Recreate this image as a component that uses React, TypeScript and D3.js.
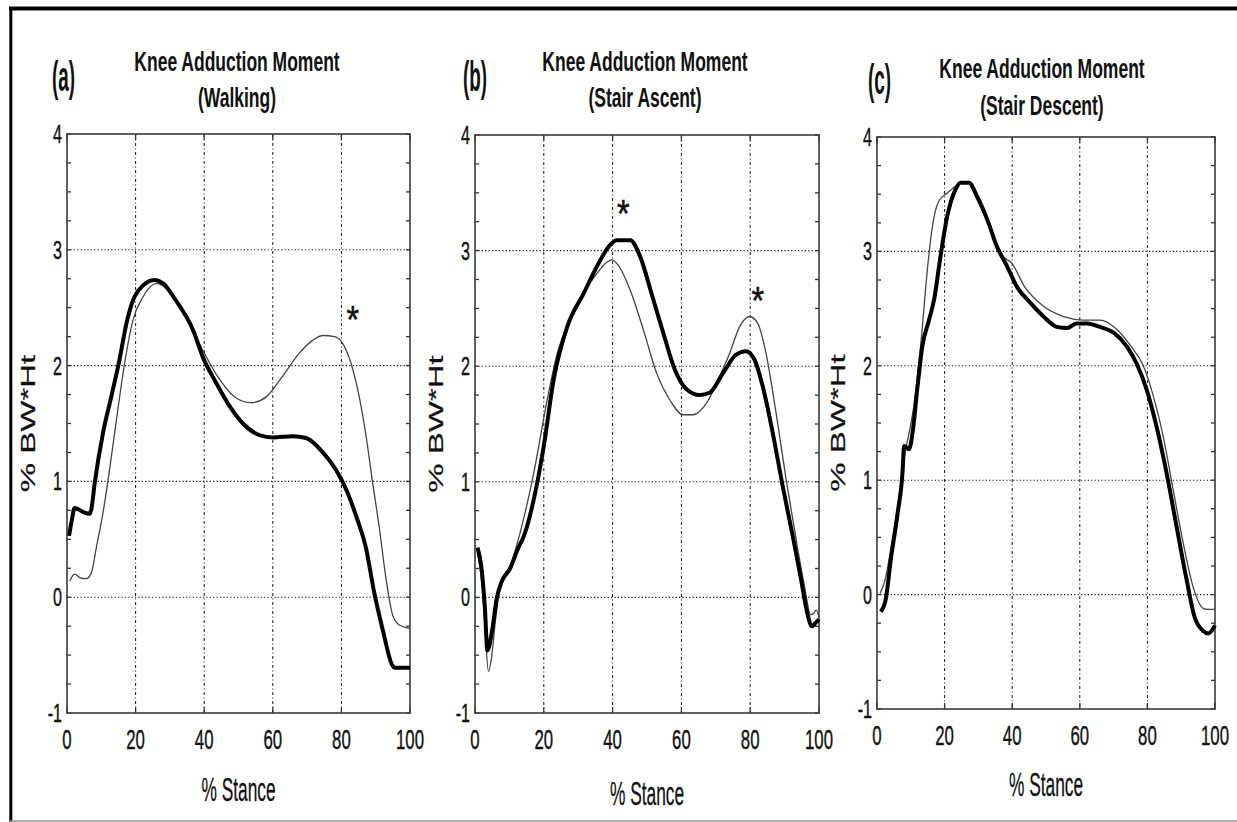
import React from "react";
import * as d3 from "d3";

// ---------- data (x = % stance, y = % BW*Ht) ----------
const xTicks = [0, 20, 40, 60, 80, 100];
const yTicks = [-1, 0, 1, 2, 3, 4];
const gridX = [20, 40, 60, 80];
const gridY = [0, 1, 2, 3];

const panelLetters = ["(a)", "(b)", "(c)"];
const titleLine1 = ["Knee Adduction Moment", "Knee Adduction Moment", "Knee Adduction Moment"];
const titleLine2 = ["(Walking)", "(Stair Ascent)", "(Stair Descent)"];
const xLabel = "% Stance";
const yLabel = "% BW*Ht";

const walkingThick: [number, number][] = [
  [0.6, 0.53], [1.5, 0.68], [2.2, 0.77], [3.2, 0.76], [5.1, 0.73], [6.6, 0.72], [7.1, 0.76],
  [8.1, 0.99], [10.5, 1.42], [12.9, 1.73], [15.3, 2.05], [17.3, 2.36], [19.2, 2.56],
  [22.1, 2.69], [25.5, 2.74], [28, 2.71], [31.8, 2.56], [36.7, 2.31], [39.8, 2.06],
  [43.5, 1.85], [47.4, 1.65], [51.3, 1.5], [56.1, 1.4], [60, 1.38], [65.8, 1.39],
  [69.7, 1.375], [74.6, 1.25], [78.4, 1.1], [81.4, 0.93], [84.3, 0.7], [87.2, 0.42],
  [89.5, 0.05], [92.2, -0.3], [94.7, -0.58], [95.6, -0.61], [100, -0.61],
];
const walkingThin: [number, number][] = [
  [0.8, 0.14], [2.2, 0.2], [3.7, 0.17], [5.6, 0.16], [7.1, 0.21], [8.5, 0.42], [10.5, 0.73],
  [12.4, 1.1], [14.4, 1.53], [16.8, 2.02], [19.2, 2.39], [22.1, 2.59], [26, 2.71],
  [29.9, 2.64], [34.8, 2.42], [39.8, 2.12], [44.5, 1.88], [49.3, 1.72], [53.7, 1.68],
  [58.1, 1.73], [62.9, 1.91], [67.8, 2.11], [71.7, 2.22], [74.6, 2.26], [78, 2.25],
  [80.4, 2.19], [82.8, 2.02], [85.2, 1.73], [87.2, 1.39], [89.1, 0.99], [91.1, 0.59],
  [93, 0.16], [95, -0.16], [96.9, -0.24], [100, -0.27],
];

const ascentThick: [number, number][] = [
  [0.7, 0.43], [1.9, 0.25], [2.9, -0.1], [3.6, -0.46], [4.9, -0.3], [6.3, -0.01], [7.8, 0.14],
  [10.2, 0.25], [12.6, 0.43], [14.2, 0.53], [17.1, 0.85], [20, 1.31], [22.9, 1.89],
  [26.8, 2.34], [31.6, 2.63], [35.4, 2.86], [39.3, 3.05], [41.2, 3.09], [45.1, 3.09],
  [48, 2.95], [51.3, 2.63], [54.7, 2.29], [58.1, 1.97], [61.5, 1.8], [65.3, 1.75],
  [68.2, 1.77], [72.1, 1.94], [75.9, 2.1], [78.8, 2.13], [81.2, 2.06], [83.6, 1.83],
  [86.5, 1.43], [89.4, 0.97], [92.3, 0.54], [94.7, 0.17], [96.7, -0.15], [97.9, -0.25],
  [99, -0.22], [100, -0.19],
];
const ascentThin: [number, number][] = [
  [0.7, 0.38], [1.9, 0.15], [2.9, -0.25], [3.9, -0.64], [4.9, -0.5], [5.8, -0.24], [6.8, 0.0],
  [7.9, 0.15], [10.2, 0.27], [13.2, 0.57], [17.1, 1.08], [21, 1.71], [23.9, 2.11],
  [27.7, 2.4], [31.6, 2.63], [35.4, 2.8], [38.3, 2.9], [39.8, 2.92], [41.7, 2.87],
  [45.1, 2.66], [48.9, 2.32], [52.8, 1.94], [56.6, 1.71], [60.5, 1.58], [63.4, 1.58],
  [67.3, 1.68], [71.1, 1.91], [74, 2.11], [76.9, 2.34], [79.8, 2.43], [82.2, 2.37],
  [84.6, 2.11], [87.5, 1.6], [90.4, 1.03], [93.3, 0.51], [95.7, 0.11], [97.6, -0.15],
  [98.4, -0.14], [99.2, -0.11], [100, -0.17],
];

const descentThick: [number, number][] = [
  [1.1, -0.15], [2.6, -0.04], [4.1, 0.31], [6.1, 0.71], [7.6, 1.09], [8.0, 1.3], [9.5, 1.27],
  [10.5, 1.41], [12, 1.82], [13.4, 2.17], [15.4, 2.4], [16.9, 2.58], [18.8, 2.96],
  [20.8, 3.31], [23.2, 3.54], [24.7, 3.6], [27.2, 3.6], [29.6, 3.48], [32.6, 3.28],
  [35.5, 3.04], [38.5, 2.87], [41.4, 2.69], [45.4, 2.55], [49.3, 2.43], [53.2, 2.34],
  [56.2, 2.33], [59.1, 2.37], [62.1, 2.37], [66, 2.34], [70, 2.29], [73.9, 2.17],
  [76.8, 2.02], [79.8, 1.79], [82.7, 1.47], [85.7, 1.06], [88.6, 0.6], [91.6, 0.13],
  [94, -0.2], [96.6, -0.32], [98, -0.34], [99.6, -0.29], [100, -0.27],
];
const descentThin: [number, number][] = [
  [0.9, 0.01], [2.4, 0.13], [4.2, 0.42], [6.1, 0.77], [8, 1.18], [10.9, 1.65], [12.9, 2.17],
  [14.9, 2.84], [16.4, 3.22], [18.3, 3.44], [20.8, 3.51], [23.2, 3.57], [25, 3.61],
  [27.2, 3.6], [29.6, 3.46], [32.6, 3.26], [35.5, 3.05], [37.5, 2.95], [39.8, 2.9],
  [43.7, 2.69], [49.3, 2.52], [55.2, 2.43], [61.1, 2.4], [66, 2.4], [70.9, 2.32],
  [74.9, 2.18], [78.8, 2.0], [81.8, 1.73], [84.7, 1.38], [87.6, 0.92], [90.6, 0.45],
  [93.5, 0.07], [96.5, -0.12], [98, -0.13], [100, -0.13],
];

const walkingStars: [number, number][] = [[83.3, 2.46]];
const ascentStars: [number, number][] = [[43.1, 3.39], [82.2, 2.63]];
const descentStars: [number, number][] = [];

// ---------- layout ----------
const W = 1237;
const H = 822;
const FONT = "'Liberation Sans', Arial, Helvetica, sans-serif";
const TITLE_SX = 0.625;

type Panel = {
  left: number; right: number; top: number; bottom: number;
  thick: [number, number][]; thin: [number, number][]; stars: [number, number][];
  letterX: number; letterY: number;
  t1Y: number; t2Y: number; tCx: number;
  xLabY: number;
};

const panels: Panel[] = [
  { left: 67, right: 410, top: 134, bottom: 713, thick: walkingThick, thin: walkingThin, stars: walkingStars,
    letterX: 52, letterY: 91, t1Y: 71, t2Y: 107, tCx: 237, xLabY: 801 },
  { left: 475, right: 819, top: 135, bottom: 713, thick: ascentThick, thin: ascentThin, stars: ascentStars,
    letterX: 463, letterY: 91, t1Y: 71, t2Y: 107, tCx: 645, xLabY: 805 },
  { left: 877, right: 1215, top: 137, bottom: 709, thick: descentThick, thin: descentThin, stars: descentStars,
    letterX: 868, letterY: 94, t1Y: 78, t2Y: 115, tCx: 1042, xLabY: 796 },
];

const minorY = d3.range(-1, 4.001, 0.25);

function PanelView({ p, i }: { p: Panel; i: number }) {
  const x = d3.scaleLinear().domain([0, 100]).range([p.left, p.right]);
  const y = d3.scaleLinear().domain([-1, 4]).range([p.bottom, p.top]);
  const line = d3
    .line<[number, number]>()
    .x((d) => x(d[0]))
    .y((d) => y(d[1]))
    .curve(d3.curveMonotoneX);
  const cx = (p.left + p.right) / 2;
  const cy = (p.top + p.bottom) / 2;
  return (
    <g>
      {/* grid */}
      {gridY.map((v) => (
        <line key={"gy" + v} x1={p.left} x2={p.right} y1={y(v)} y2={y(v)}
          stroke="#111" strokeWidth={1.1} strokeDasharray="1.2,2.2" />
      ))}
      {gridX.map((v) => (
        <line key={"gx" + v} x1={x(v)} x2={x(v)} y1={p.top} y2={p.bottom}
          stroke="#111" strokeWidth={1} strokeDasharray="3,2.5,1,2.5" />
      ))}
      {/* minor y ticks both sides */}
      {minorY.map((v) => (
        <g key={"my" + v}>
          <line x1={p.left} x2={p.left + 4} y1={y(v)} y2={y(v)} stroke="#333" strokeWidth={1.3} />
          <line x1={p.right - 4} x2={p.right} y1={y(v)} y2={y(v)} stroke="#333" strokeWidth={1.3} />
        </g>
      ))}
      {/* x ticks top & bottom */}
      {xTicks.map((v) => (
        <g key={"xt" + v}>
          <line x1={x(v)} x2={x(v)} y1={p.bottom} y2={p.bottom - 6} stroke="#333" strokeWidth={1.3} />
          <line x1={x(v)} x2={x(v)} y1={p.top} y2={p.top + 6} stroke="#333" strokeWidth={1.3} />
        </g>
      ))}
      {/* frame */}
      <rect x={p.left} y={p.top} width={p.right - p.left} height={p.bottom - p.top}
        fill="none" stroke="#3a3a3a" strokeWidth={1.6} />
      {/* curves */}
      <path d={line(p.thin) || ""} fill="none" stroke="#444" strokeWidth={1.3} />
      <path d={line(p.thick) || ""} fill="none" stroke="#000" strokeWidth={4} strokeLinejoin="round" />
      {/* asterisks */}
      {p.stars.map((s, k) => (
        <text key={"s" + k} transform={`translate(${x(s[0])},${y(s[1]) + 21}) scale(0.85,1)`}
          textAnchor="middle" fontSize={38} fontFamily={FONT} fill="#111" stroke="#111" strokeWidth={0.6}>*</text>
      ))}
      {/* y tick labels */}
      {yTicks.map((v) => (
        <text key={"yl" + v} transform={`translate(${p.left - 5},${y(v)}) scale(0.62,1)`}
          textAnchor="end" dominantBaseline="central" fontSize={26} fontFamily={FONT} fill="#111"
          stroke="#111" strokeWidth={0.4}>
          {String(v)}
        </text>
      ))}
      {/* x tick labels */}
      {xTicks.map((v) => (
        <text key={"xl" + v} transform={`translate(${x(v)},${p.bottom + 36}) scale(0.6,1)`}
          textAnchor="middle" fontSize={28} fontFamily={FONT} fill="#111" stroke="#111" strokeWidth={0.4}>
          {String(v)}
        </text>
      ))}
      {/* axis labels */}
      <text transform={`translate(${cx},${p.xLabY}) scale(0.51,1)`} textAnchor="middle" fontSize={34}
        fontFamily={FONT} fill="#111" stroke="#111" strokeWidth={0.3}>{xLabel}</text>
      <text transform={`translate(${p.left - 32},${cy}) rotate(-90) scale(1,0.63)`}
        textAnchor="middle" fontSize={33} fontFamily={FONT} fill="#111" stroke="#111" strokeWidth={0.3}>{yLabel}</text>
      {/* titles */}
      <text transform={`translate(${p.tCx},${p.t1Y}) scale(${TITLE_SX},1)`} textAnchor="middle"
        fontSize={28} fontWeight="bold" fontFamily={FONT} fill="#111">{titleLine1[i]}</text>
      <text transform={`translate(${p.tCx},${p.t2Y}) scale(${TITLE_SX},1)`} textAnchor="middle"
        fontSize={28} fontWeight="bold" fontFamily={FONT} fill="#111">{titleLine2[i]}</text>
      <text transform={`translate(${p.letterX},${p.letterY}) scale(0.45,1)`}
        fontSize={42} fontWeight="bold" fontFamily={FONT} fill="#111">{panelLetters[i]}</text>
    </g>
  );
}

export default function App() {
  return (
    <svg width={W} height={H} viewBox={`0 0 ${W} ${H}`}
      style={{ position: "absolute", left: 0, top: 0, display: "block", background: "#fff" }}>
      <rect x={0} y={0} width={W} height={H} fill="#fff" />
      {/* outer frame */}
      <line x1={9} x2={W} y1={8.5} y2={8.5} stroke="#000" strokeWidth={4} />
      <line x1={10.8} x2={10.8} y1={7} y2={H} stroke="#000" strokeWidth={3} />
      <line x1={10} x2={W} y1={821} y2={821} stroke="#999" strokeWidth={1.5} />
      {panels.map((p, i) => (
        <PanelView key={i} p={p} i={i} />
      ))}
    </svg>
  );
}
